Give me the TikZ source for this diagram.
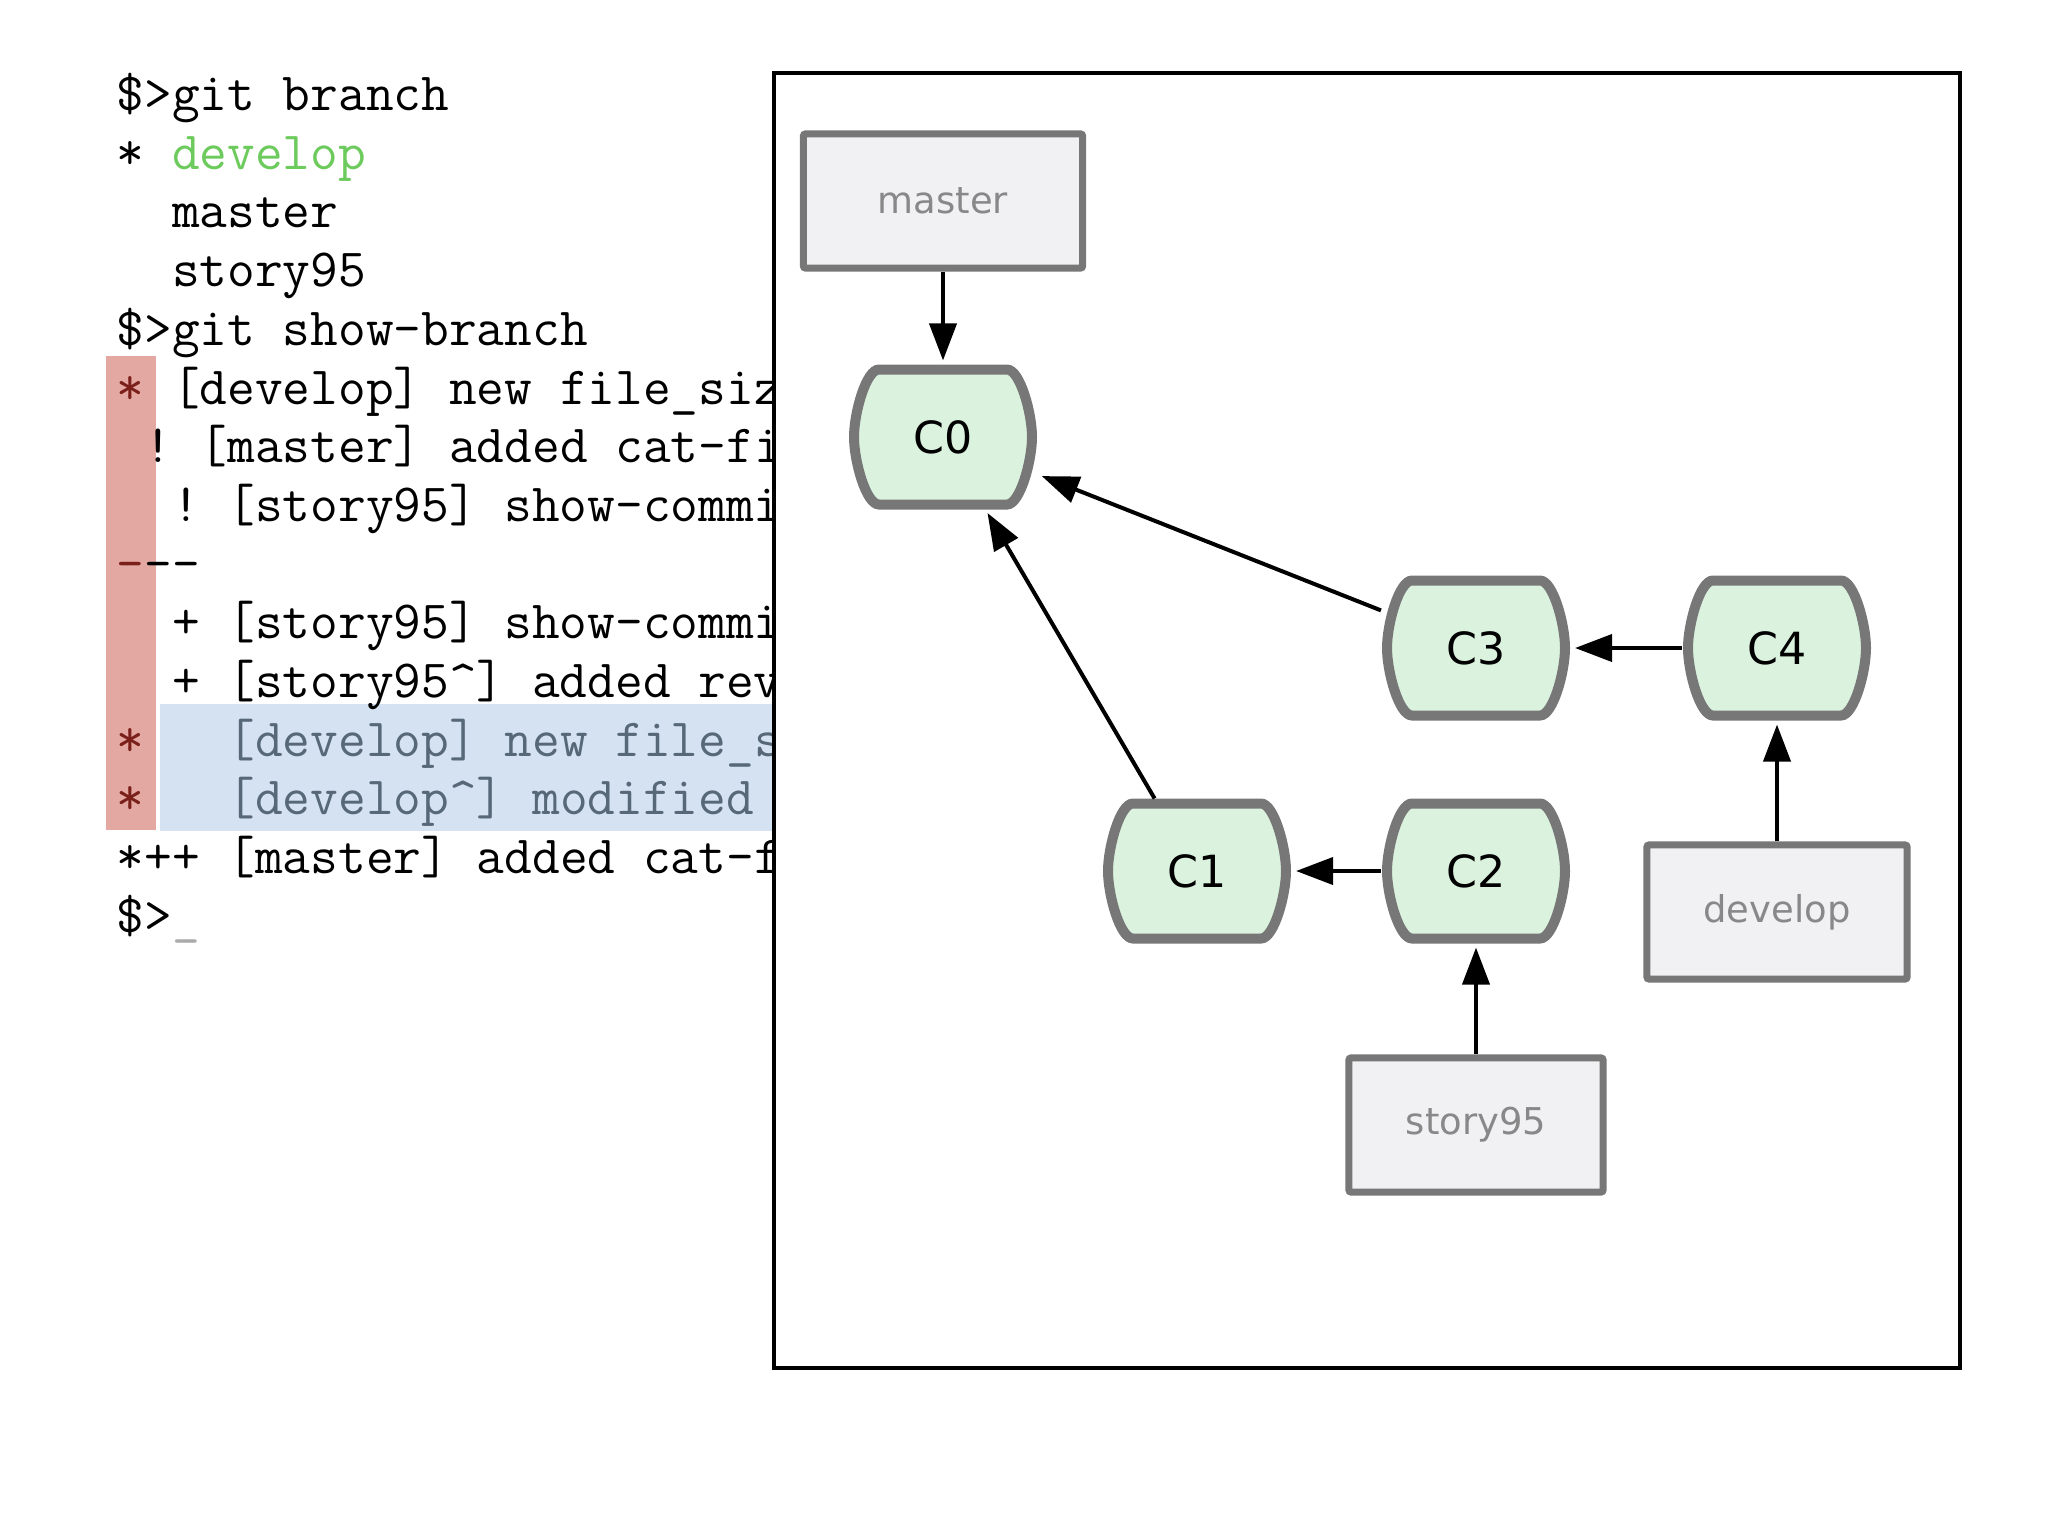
\documentclass[tikz,border=0pt]{standalone}
\usepackage{fontspec}
\setmainfont{DejaVu Sans}
\usetikzlibrary{shapes.misc, arrows.meta, positioning}
\definecolor{CommitFill}{HTML}{DAF2DE}
\definecolor{EdgeGray}{HTML}{777777}
\definecolor{BranchFill}{HTML}{F1F0F3}
\definecolor{LabelGray}{HTML}{888888}
\definecolor{CursorGray}{HTML}{AAAAAA}
\definecolor{MarkRed}{HTML}{E2A8A1}
\definecolor{StarRed}{HTML}{7A1F1A}
\definecolor{SelBlue}{HTML}{D5E2F1}
\definecolor{SelText}{HTML}{576979}
\definecolor{HeadGreen}{HTML}{6CCB5C}
\tikzset{
    commit/.style={rectangle, inner sep=0pt, outer sep=0pt, fill=white,
        minimum width=1.9cm, minimum height=1.45cm,
        font=\fontsize{12.6}{15}\selectfont,
        path picture={
            \draw[draw=EdgeGray, fill=CommitFill, line width=0.1cm]
                ([shift={(0,-67.5)}]path picture bounding box.center)
                -- ([shift={(64,-67.5)}]path picture bounding box.center)
                .. controls ([shift={(77,-67.5)}]path picture bounding box.center)
                and ([shift={(89,-24)}]path picture bounding box.center)
                .. ([shift={(89,0)}]path picture bounding box.center)
                .. controls ([shift={(89,24)}]path picture bounding box.center)
                and ([shift={(77,67.5)}]path picture bounding box.center)
                .. ([shift={(64,67.5)}]path picture bounding box.center)
                -- ([shift={(-64,67.5)}]path picture bounding box.center)
                .. controls ([shift={(-77,67.5)}]path picture bounding box.center)
                and ([shift={(-89,24)}]path picture bounding box.center)
                .. ([shift={(-89,0)}]path picture bounding box.center)
                .. controls ([shift={(-89,-24)}]path picture bounding box.center)
                and ([shift={(-77,-67.5)}]path picture bounding box.center)
                .. ([shift={(-64,-67.5)}]path picture bounding box.center)
                -- cycle;}},
    branch/.style={rectangle, draw=EdgeGray, line width=0.07cm,
        rounded corners=0.02cm, fill=BranchFill, text=LabelGray,
        minimum width=2.54cm, minimum height=1.34cm,
        font=\fontsize{10.5}{12}\selectfont},
    link/.style={-{Triangle[length=0.37cm, width=0.27cm]},
        line width=0.04cm, shorten >=0.04cm},
    termline/.style={anchor=base west, inner sep=0pt,
        font=\ttfamily\fontsize{15.3}{18}\selectfont},
}
\frenchspacing
\begin{document}
\begin{tikzpicture}[x=0.01cm, y=-0.01cm]
    \useasboundingbox (0,0) rectangle (2048,1536);
    % terminal output, cut off by the frame
    \begin{scope}
        \clip (0,0) rectangle (774,1536);
        \fill[MarkRed] (106,356) rectangle (156,830);
        \fill[SelBlue] (160,704) rectangle (780,831);
        \foreach \i/\txt in {
            1/{\$>git branch},
            2/{*~\textcolor{HeadGreen}{develop}},
            3/{~~master},
            4/{~~story95},
            5/{\$>git show-branch},
            6/{\textcolor{StarRed}{*}~[develop] new file\_siz},
            7/{~!~[master] added cat-fi},
            8/{~~!~[story95] show-commi},
            9/{\textcolor{StarRed}{-}\kern0pt-\kern0pt-},
            10/{~~+~[story95] show-commi},
            11/{~~+~[story95\textasciicircum] added rev},
            12/{\textcolor{StarRed}{*}\textcolor{SelText}{~~~[develop] new file\_s}},
            13/{\textcolor{StarRed}{*}\textcolor{SelText}{~~~[develop\textasciicircum] modified}},
            14/{*++~[master] added cat-f},
            15/{\$>\textcolor{CursorGray}{\_}}}
            \node[termline] (line\i) at (116,{110.5+58.7*(\i-1)}) {\txt};
    \end{scope}
    % commit graph
    \draw[line width=0.04cm] (774,73) rectangle (1960,1368);
    \node[branch, minimum width=2.79cm] (master) at (943,201) {master};
    \node[commit] (C0) at (943,437) {C0};
    \node[commit] (C3) at (1476,648) {C3};
    \node[commit] (C4) at (1777,648) {C4};
    \node[commit] (C1) at (1197,871) {C1};
    \node[commit] (C2) at (1476,871) {C2};
    \node[branch, minimum width=2.6cm] (develop) at (1777,912) {develop};
    \node[branch] (story95) at (1476,1125) {story95};
    \draw[link] (master) -- (C0);
    \draw[link] (C3) -- (C0);
    \draw[link] (C1) -- (C0);
    \draw[link] (C4) -- (C3);
    \draw[link] (C2) -- (C1);
    \draw[link] (develop) -- (C4);
    \draw[link] (story95) -- (C2);
\end{tikzpicture}
\end{document}
